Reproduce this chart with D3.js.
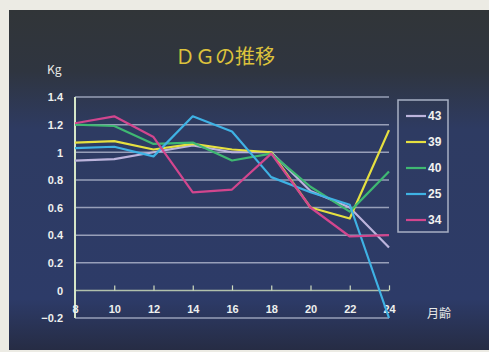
<!DOCTYPE html>
<html>
<head>
<meta charset="utf-8">
<script src="https://cdn.jsdelivr.net/npm/d3@7"></script>
<style>
  html, body { margin: 0; padding: 0; background: #ecebe4; }
  svg { display: block; }
  text { font-family: "Liberation Sans", "DejaVu Sans", sans-serif; }
</style>
</head>
<body>
<svg id="chart" width="489" height="352"></svg>
<script>
// Age in months
const months = [8, 10, 12, 14, 16, 18, 20, 22, 24];
// Daily gain (kg) for each animal
const dg43 = [0.94, 0.95, 1.00, 1.05, 1.00, 1.00, 0.72, 0.60, 0.31];
const dg39 = [1.07, 1.08, 1.02, 1.06, 1.02, 1.00, 0.60, 0.52, 1.16];
const dg40 = [1.20, 1.19, 1.06, 1.07, 0.94, 0.99, 0.75, 0.57, 0.86];
const dg25 = [1.03, 1.04, 0.97, 1.26, 1.15, 0.82, 0.71, 0.62, -0.20];
const dg34 = [1.21, 1.26, 1.11, 0.71, 0.73, 0.99, 0.60, 0.39, 0.40];
const seriesNames = ["43", "39", "40", "25", "34"];
const yTicks = [1.4, 1.2, 1, 0.8, 0.6, 0.4, 0.2, 0, -0.2];
const xTicks = [8, 10, 12, 14, 16, 18, 20, 22, 24];

const seriesValues = [dg43, dg39, dg40, dg25, dg34];
const colors = ["#bcb4dc", "#e6e040", "#3fb872", "#3fb2e4", "#d2468e"];

const svg = d3.select("#chart");

// slide background
const defs = svg.append("defs");
const grad = defs.append("linearGradient").attr("id", "bg")
  .attr("x1", 0).attr("y1", 0).attr("x2", 0).attr("y2", 1);
[["0%", "#313538"], ["18%", "#2f3540"], ["35%", "#2e3b62"], ["85%", "#2d3b68"], ["100%", "#262c44"]]
  .forEach(([o, c]) => grad.append("stop").attr("offset", o).attr("stop-color", c));
svg.append("rect").attr("x", 9).attr("y", 10).attr("width", 480).attr("height", 340)
  .attr("fill", "url(#bg)");

const x = d3.scaleLinear().domain([8, 24]).range([75, 389]);
const y = d3.scaleLinear().domain([-0.2, 1.4]).range([318, 97]);

// horizontal grid
svg.append("g").selectAll("line").data(yTicks).join("line")
  .attr("x1", x(8)).attr("x2", x(24))
  .attr("y1", d => y(d)).attr("y2", d => y(d))
  .attr("stroke", d => d === 0 ? "#c8d8b8" : "#aab2c8")
  .attr("stroke-opacity", 0.85)
  .attr("stroke-width", 1.5);

// y axis line
svg.append("line").attr("x1", x(8)).attr("x2", x(8))
  .attr("y1", y(1.4)).attr("y2", y(-0.2))
  .attr("stroke", "#d6e6c8").attr("stroke-width", 2);

// x axis (at zero) with upward ticks
const xAxis = d3.axisTop(x).tickValues(xTicks.slice(1)).tickSize(5).tickFormat("");
const gx = svg.append("g").attr("transform", `translate(0,${y(0)})`).call(xAxis);
gx.select(".domain").remove();
gx.selectAll(".tick line").attr("stroke", "#d0dcc0").attr("stroke-width", 1.2);

// y tick labels
const yAxis = d3.axisLeft(y).tickValues(yTicks).tickSize(0).tickPadding(0)
  .tickFormat(d => d3.format("")(d));
const gy = svg.append("g").attr("transform", `translate(63,0)`).call(yAxis);
gy.select(".domain").remove();
gy.selectAll(".tick text").attr("fill", "#eef0ee").attr("font-size", 11)
  .attr("font-weight", "bold").attr("dy", "0.35em");

// x tick labels below the plot
const xLab = d3.axisBottom(x).tickValues(xTicks).tickSize(0).tickPadding(0);
const gxl = svg.append("g").attr("transform", `translate(0,305)`).call(xLab);
gxl.select(".domain").remove();
gxl.selectAll(".tick text").attr("fill", "#eef0ee").attr("font-size", 11)
  .attr("font-weight", "bold");

// series lines
const line = d3.line().x((d, i) => x(months[i])).y(d => y(d));
svg.append("g").selectAll("path").data(seriesValues).join("path")
  .attr("d", d => line(d))
  .attr("fill", "none")
  .attr("stroke", (d, i) => colors[i])
  .attr("stroke-width", 2.2)
  .attr("stroke-linejoin", "round");

// legend
const lg = svg.append("g");
lg.append("rect").attr("x", 398).attr("y", 100).attr("width", 50).attr("height", 132)
  .attr("fill", "none").attr("stroke", "#a8b0c4").attr("stroke-width", 1.5);
const items = lg.selectAll("g.item").data(seriesNames).join("g")
  .attr("class", "item")
  .attr("transform", (d, i) => `translate(0,${116 + i * 26})`);
items.append("line").attr("x1", 406).attr("x2", 426).attr("y1", 0).attr("y2", 0)
  .attr("stroke", (d, i) => colors[i]).attr("stroke-width", 2.2);
items.append("text").attr("x", 428).attr("y", 0).attr("dy", "0.36em")
  .attr("fill", "#f2f2f0").attr("font-size", 12).attr("font-weight", "bold")
  .text(d => d);

// title and unit labels
svg.append("text").attr("x", 225).attr("y", 64).attr("text-anchor", "middle")
  .attr("fill", "#dcc23c").attr("font-size", 20)
  .style("font-family", "'Noto Sans CJK JP', sans-serif")
  .text("ＤＧの推移");
svg.append("text").attr("x", 47).attr("y", 74)
  .attr("fill", "#e8eae8").attr("font-size", 12)
  .style("font-family", "'Noto Sans CJK JP', sans-serif")
  .text("Kg");
svg.append("text").attr("x", 427).attr("y", 318)
  .attr("fill", "#e8eae8").attr("font-size", 12)
  .style("font-family", "'Noto Sans CJK JP', sans-serif")
  .text("月齢");
</script>
</body>
</html>
